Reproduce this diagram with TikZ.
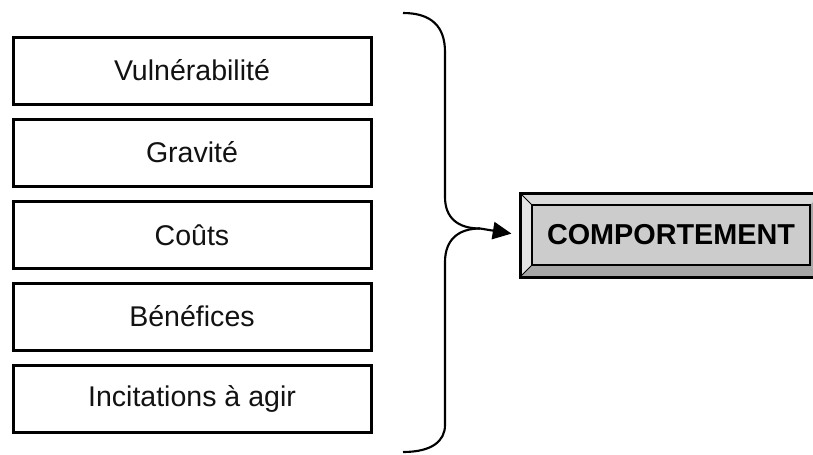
\documentclass[tikz,border=0pt]{standalone}
\usepackage{fontspec}
\setmainfont{Liberation Sans}
\usetikzlibrary{arrows.meta}

\tikzset{every picture/.style={line width=0.75pt}}
\tikzset{
	facteur/.style={draw=black, line width=2.25pt, fill=white, minimum width=268.5pt, minimum height=50.25pt, inner sep=0pt, text=black!93, font=\fontsize{21.4}{24}\selectfont},
	accolade/.style={draw=black, line width=1.6pt},
}
\definecolor{bevelTop}{RGB}{218,218,218}
\definecolor{bevelLeft}{RGB}{228,228,228}
\definecolor{bevelBottom}{RGB}{166,166,166}
\definecolor{faceGray}{RGB}{204,204,204}

\begin{document}
\begin{tikzpicture}[x=0.75pt,y=0.75pt,yscale=-1,xscale=1]
	\useasboundingbox (0,0) rectangle (813,454);

	% Facteurs
	\node[facteur] (vuln)  at (192,70.5)  {Vulnérabilité};
	\node[facteur] (grav)  at (192,152.5) {Gravité};
	\node[facteur] (couts) at (192,235)   {Coûts};
	\node[facteur] (benef) at (192,316.5) {Bénéfices};
	\node[facteur] (incit) at (192,398.5) {Incitations à agir};

	% Accolade
	\coordinate (pointe) at (480,228.5);
	\draw[accolade] (403,13) .. controls (432,13) and (445,27) .. (445,52) -- (445,197) .. controls (445,218) and (458,228.5) .. (pointe) ;
	\draw[accolade] (pointe) .. controls (458,228.5) and (445,240) .. (445,262) -- (445,425) .. controls (445,441) and (432,452) .. (403,452) ;

	% Bouton en relief
	\fill[bevelTop]    (520,193) -- (822,193) -- (810,205) -- (532,205) -- cycle ;
	\fill[bevelLeft]   (520,193) -- (532,205) -- (532,265) -- (520,277) -- cycle ;
	\fill[bevelBottom] (520,277) -- (822,277) -- (810,265) -- (532,265) -- cycle ;
	\fill[bevelBottom] (822,193) -- (822,277) -- (810,265) -- (810,205) -- cycle ;
	\draw[line width=0.6pt] (520,193) -- (532,205) (520,277) -- (532,265) ;
	\draw[line width=2.25pt] (520,193) rectangle (822,277) ;
	\node[draw=black, line width=1.8pt, fill=faceGray, minimum width=208.5pt, minimum height=45pt, inner sep=0pt, font=\fontsize{21.6}{24}\selectfont\bfseries] (comp) at (671,235) {COMPORTEMENT};

	% Fleche
	\draw[line width=1.6pt, -{Triangle[length=14pt,width=13pt]}, shorten >=6.5pt] (pointe) -- (comp.west -| 520,0) ;

\end{tikzpicture}
\end{document}
